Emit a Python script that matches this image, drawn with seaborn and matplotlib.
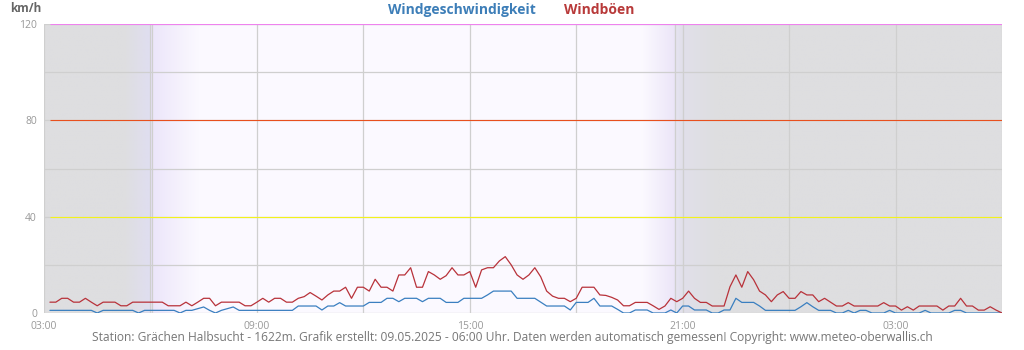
import numpy as np
import pandas as pd
import matplotlib
matplotlib.use("Agg")
import matplotlib.pyplot as plt
import matplotlib.dates as mdates
import seaborn as sns

# ---- data: 10-minute values, 08.05.2025 03:10 to 09.05.2025 06:00 ----
start = "2025-05-08 03:10"
wind_speed = [
    1.1, 1.1, 1.1, 1.1, 1.1, 1.1, 1.1, 1.1, 0.0, 1.1,
    1.1, 1.1, 1.1, 1.1, 1.1, 0.0, 1.1, 1.1, 1.1, 1.1,
    1.1, 1.1, 0.0, 1.1, 1.1, 1.8, 2.5, 1.1, 0.0, 1.1,
    1.8, 2.5, 1.1, 1.1, 1.1, 1.1, 1.1, 1.1, 1.1, 1.1,
    1.1, 1.1, 2.9, 2.9, 2.9, 2.9, 1.25, 2.9, 2.9, 4.3,
    2.9, 2.9, 2.9, 2.9, 4.4, 4.4, 4.4, 6.1, 6.1, 4.7,
    6.1, 6.1, 6.1, 4.7, 6.1, 6.1, 6.1, 4.4, 4.4, 4.4,
    6.1, 6.1, 6.1, 6.1, 7.5, 9.1, 9.1, 9.1, 9.1, 6.1,
    6.1, 6.1, 6.1, 4.5, 2.9, 2.9, 2.9, 2.9, 1.25, 4.4,
    4.4, 4.4, 6.1, 2.9, 2.9, 2.9, 1.5, 0.0, 0.0, 1.25,
    1.25, 1.25, 0.0, 0.0, 0.0, 1.25, 0.0, 2.9, 2.9, 1.25,
    1.25, 1.25, 0.0, 0.0, 1.25, 1.25, 6.1, 4.4, 4.4, 4.4,
    2.9, 1.1, 1.1, 1.1, 1.1, 1.1, 1.1, 2.6, 4.3, 2.6,
    1.1, 1.1, 1.1, 0.0, 0.0, 1.1, 0.0, 1.1, 1.1, 0.0,
    0.0, 0.0, 1.1, 0.0, 0.0, 0.0, 0.0, 0.0, 1.1, 0.0,
    0.0, 0.0, 0.0, 1.1, 1.1, 0.0, 0.0, 0.0, 0.0, 0.0,
    0.0, 0.0,
]
wind_gusts = [
    4.5, 4.5, 6.1, 6.1, 4.5, 4.5, 6.1, 4.5, 3.0, 4.5,
    4.5, 4.5, 3.0, 3.0, 4.5, 4.5, 4.5, 4.5, 4.5, 4.5,
    3.0, 3.0, 3.0, 4.5, 3.0, 4.5, 6.1, 6.1, 3.0, 4.5,
    4.5, 4.5, 4.5, 3.0, 3.0, 4.5, 6.1, 4.5, 6.1, 6.1,
    4.5, 4.5, 6.1, 6.8, 8.5, 7.0, 5.4, 7.5, 9.1, 9.1,
    10.7, 6.1, 10.7, 10.7, 9.1, 14.0, 10.7, 10.7, 9.1, 15.8,
    15.8, 18.8, 10.7, 10.7, 17.2, 15.8, 14.0, 15.5, 18.8, 15.8,
    15.8, 17.2, 10.7, 17.9, 18.8, 18.8, 21.6, 23.4, 20.0, 15.8,
    14.0, 15.8, 18.8, 15.0, 9.1, 7.0, 6.1, 6.1, 4.7, 6.1,
    10.7, 10.7, 10.7, 7.5, 7.3, 6.5, 5.4, 3.0, 3.0, 4.4,
    4.4, 4.4, 3.0, 1.5, 2.9, 6.1, 4.7, 6.1, 9.1, 6.1,
    4.4, 4.4, 2.9, 2.9, 2.9, 10.9, 15.8, 10.7, 17.2, 13.8,
    9.1, 7.5, 4.7, 7.5, 8.9, 6.1, 6.1, 8.9, 7.5, 7.5,
    4.7, 6.1, 4.5, 2.9, 2.9, 4.3, 2.9, 2.9, 2.9, 2.9,
    2.9, 4.3, 2.9, 2.9, 1.2, 2.6, 1.2, 2.9, 2.9, 2.9,
    2.9, 1.2, 2.9, 2.9, 6.1, 2.9, 2.9, 1.2, 1.2, 2.6,
    1.2, 0.0,
]
warning_levels = [40, 80, 120]
warning_colors = ["#f2f21c", "#e8501e", "#ee82ee"]
sunrise = "2025-05-08 06:03"
sunset = "2025-05-08 20:47"
x_start = "2025-05-08 03:00"
x_end = "2025-05-09 06:00"
y_ticks = [0, 40, 80, 120]
series_names = ["Windgeschwindigkeit", "Windböen"]
footer = ("Station: Grächen Halbsucht - 1622m. Grafik erstellt: 09.05.2025 - 06:00 Uhr. "
          "Daten werden automatisch gemessen! Copyright: www.meteo-oberwallis.ch")

times = pd.date_range(start, periods=len(wind_speed), freq="10min")
df = pd.DataFrame({"time": times, series_names[0]: wind_speed, series_names[1]: wind_gusts})

sns.set_style("white")
plt.rcParams["font.family"] = ["Open Sans", "DejaVu Sans"]

fig = plt.figure(figsize=(10.24, 3.5), dpi=100)
ax = fig.add_axes([44 / 1024, 37 / 350, 958 / 1024, 289 / 350])

t0 = mdates.date2num(pd.Timestamp(x_start))
t1 = mdates.date2num(pd.Timestamp(x_end))
hours = lambda s: (mdates.date2num(pd.Timestamp(s)) - t0) * 24

# day/night background shading
sr, ss = hours(sunrise), hours(sunset)
grey = (222, 222, 224)
stops = [
    (0.0, grey), (sr - 0.8, grey), (sr - 0.08, (224, 222, 240)),
    (sr + 0.02, (236, 230, 250)), (sr + 1.3, (251, 249, 255)),
    (ss - 0.95, (252, 250, 255)), (ss - 0.05, (236, 230, 248)),
    (ss + 0.02, (230, 228, 242)), (ss + 0.2, (225, 224, 234)),
    (ss + 1.2, grey), (27.0, grey),
]
hh = np.linspace(0, 27, 2000)
sx = [s[0] for s in stops]
rgb = np.stack([np.interp(hh, sx, [s[1][k] for s in stops]) for k in range(3)], axis=-1) / 255.0
ax.imshow(rgb[np.newaxis, :, :], extent=[t0, t1, 0, 120], aspect="auto", zorder=0,
          interpolation="bilinear")

# grid
grid_kw = dict(color="#cfcfcf", lw=0.9, zorder=1)
for h in range(0, 28, 3):
    ax.axvline(t0 + h / 24, **grid_kw)
for s in (sunrise, sunset):
    ax.axvline(mdates.date2num(pd.Timestamp(s)), **grid_kw)
for v in range(0, 121, 20):
    ax.axhline(v, **grid_kw)

# warning levels
for lvl, c in zip(warning_levels, warning_colors):
    ax.hlines(lvl, times[0], times[-1], color=c, lw=0.8, zorder=2)

sns.lineplot(data=df, x="time", y=series_names[0], color="#3a7fc0", lw=0.9, ax=ax, zorder=3)
sns.lineplot(data=df, x="time", y=series_names[1], color="#b8323a", lw=0.9, ax=ax, zorder=3)

ax.set_xlim(t0, t1)
ax.set_ylim(0, 120)
ax.set_xlabel("")
ax.set_ylabel("")
ax.set_yticks(y_ticks)
ax.set_xticks([t0 + h / 24 for h in range(0, 28, 6)])
ax.xaxis.set_major_formatter(mdates.DateFormatter("%H:%M"))
ax.tick_params(axis="both", length=0, labelsize=7.5, labelcolor="#999999")
ax.tick_params(axis="x", pad=5.5)
ax.tick_params(axis="y", pad=5)
for sp in ax.spines.values():
    sp.set_visible(False)

fig.text(10 / 1024, 1 - 9 / 350, "km/h", fontsize=8.5, fontweight="bold", color="#666666",
         va="center", ha="left")
fig.text(462 / 1024, 1 - 10 / 350, series_names[0], fontsize=10, fontweight="bold",
         color="#3d7eb8", ha="center", va="center")
fig.text(599 / 1024, 1 - 10 / 350, series_names[1], fontsize=10, fontweight="bold",
         color="#b83a3a", ha="center", va="center")
fig.text(512 / 1024, 12 / 350, footer, fontsize=8.65, color="#777777", ha="center", va="center")

fig.savefig("out.png", dpi=100)
